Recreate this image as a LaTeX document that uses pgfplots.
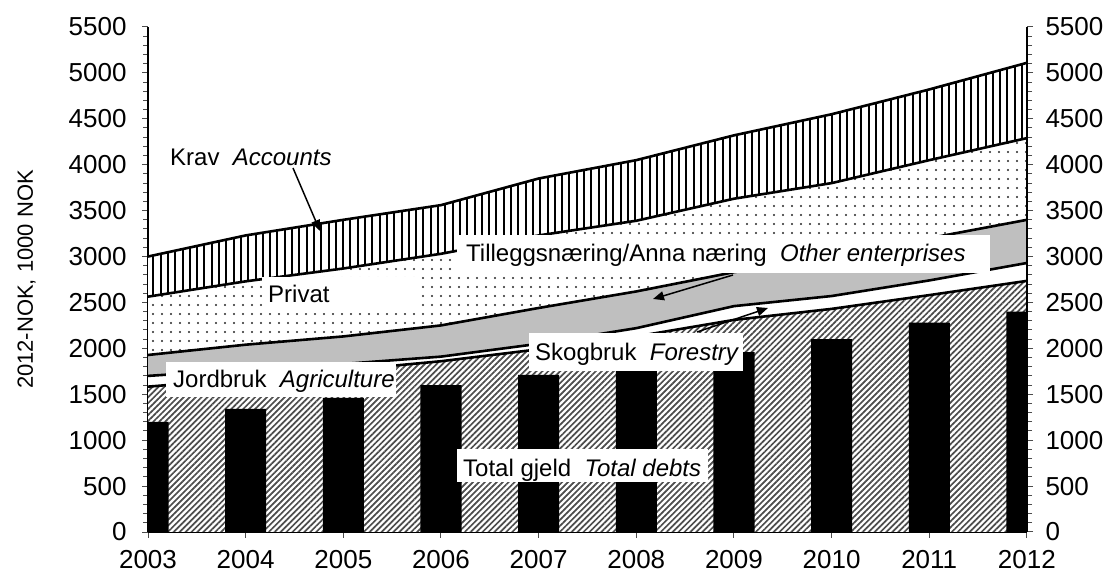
\documentclass[border=0pt]{standalone}
\usepackage{fontspec}
\setmainfont{Liberation Sans}
\usepackage{pgfplots}
\pgfplotsset{compat=1.18}
\usetikzlibrary{patterns.meta,arrows.meta}

% cumulative tops of each layer, 1000 NOK (2012 prices)
\pgfplotstableread{
year  krav  privat  other  forestry  agri  debt
2003  3000  2563    1928   1700      1583  1200
2004  3230  2730    2040   1770      1670  1340
2005  3400  2870    2130   1830      1760  1460
2006  3560  3030    2250   1910      1860  1600
2007  3850  3230    2440   2050      1990  1710
2008  4050  3390    2620   2220      2130  1820
2009  4320  3630    2830   2460      2310  1960
2010  4550  3800    3010   2570      2430  2100
2011  4820  4050    3200   2740      2580  2280
2012  5110  4290    3400   2930      2735  2400
}\datatable

\newcommand{\lbl}{\fontsize{24bp}{28bp}\selectfont}

\begin{document}
\begin{tikzpicture}
\useasboundingbox (0,0) rectangle (1113bp,575bp);
\pgfplotsset{
  common/.style={
    at={(148bp,43bp)}, anchor=south west, scale only axis,
    width=879bp, height=505bp,
    xmin=2003, xmax=2012, ymin=0, ymax=5500,
    ytick={0,500,...,5500}, minor y tick num=4,
    tick align=outside, major tick length=6bp, minor tick length=5bp,
    tick style={black!70, line width=1bp},
    axis line style={black, line width=1.5bp},
    tick label style={font=\fontsize{26bp}{30bp}\selectfont,
      /pgf/number format/assume math mode=true},
    /pgf/number format/1000 sep={},
  }
}
\begin{axis}[common,
  axis x line*=bottom, axis y line*=left,
  xtick={2003,...,2012},
  yticklabel style={xshift=-12bp}, xticklabel style={yshift=-9bp},
  ylabel={2012-NOK, 1000 NOK},
  ylabel style={font=\fontsize{22bp}{26bp}\selectfont,
    at={(axis description cs:-0.138,0.5)}, anchor=center},
]
\addplot[draw=none, fill=white, postaction={pattern={Lines[angle=90,distance=7.3bp,line width=2bp]}, pattern color=black}]
  table[x=year,y=krav]{\datatable} \closedcycle;
\addplot[draw=none, fill=white, postaction={pattern={Dots[distance=9bp,radius=1.2bp]}, pattern color=black!85}]
  table[x=year,y=privat]{\datatable} \closedcycle;
\addplot[draw=none, fill=black!25] table[x=year,y=other]{\datatable} \closedcycle;
\addplot[draw=none, fill=white] table[x=year,y=forestry]{\datatable} \closedcycle;
\addplot[draw=none, fill=white, postaction={pattern={Lines[angle=45,distance=4.2bp,line width=1.7bp]}, pattern color=black!70}]
  table[x=year,y=agri]{\datatable} \closedcycle;
\addplot[ybar, bar width=0.42, fill=black, draw=none] table[x=year,y=debt]{\datatable};
\addplot[black, line width=2.6bp] table[x=year,y=krav]{\datatable};
\addplot[black, line width=2.6bp] table[x=year,y=privat]{\datatable};
\addplot[black, line width=2.6bp] table[x=year,y=other]{\datatable};
\addplot[black, line width=2.6bp] table[x=year,y=forestry]{\datatable};
\addplot[black, line width=2.6bp] table[x=year,y=agri]{\datatable};
\end{axis}
\begin{axis}[common,
  axis y line*=right, axis x line=none,
  yticklabel style={xshift=9bp},
]
\addplot[draw=none] coordinates {(2003,0) (2012,0)};
\end{axis}

% annotations, in picture pixels (y downwards)
\begin{scope}[x=1bp, y=-1bp, yshift=575bp, font=\lbl]
\node[anchor=base west, inner sep=0] at (170,166) {Krav~~\textit{Accounts}};
\draw[line width=1.5bp, -{Triangle[length=11bp,width=9bp]}] (293,168) -- (320,231);
\fill[white] (262,277) rectangle (417,313);
\node[anchor=base west, inner sep=0] at (268,303) {Privat};
\fill[white] (457,235) rectangle (990,273);
\node[anchor=base west, inner sep=0] at (466,262) {Tilleggsnæring/Anna næring~~\textit{Other enterprises}};
\draw[line width=1.5bp, -{Triangle[length=11bp,width=9bp]}] (733,275) -- (653,299);
\fill[white] (529,333) rectangle (743,371);
\node[anchor=base west, inner sep=0] at (535,361) {Skogbruk~~\textit{Forestry}};
\draw[line width=1.5bp, -{Triangle[length=11bp,width=9bp]}] (697,332) -- (768,308);
\fill[white] (166,362) rectangle (396,397);
\node[anchor=base west, inner sep=0] at (173,388) {Jordbruk~~\textit{Agriculture}};
\fill[white] (457,449) rectangle (708,482);
\node[anchor=base west, inner sep=0] at (463,477) {Total gjeld~~\textit{Total debts}};
\end{scope}
\end{tikzpicture}
\end{document}
